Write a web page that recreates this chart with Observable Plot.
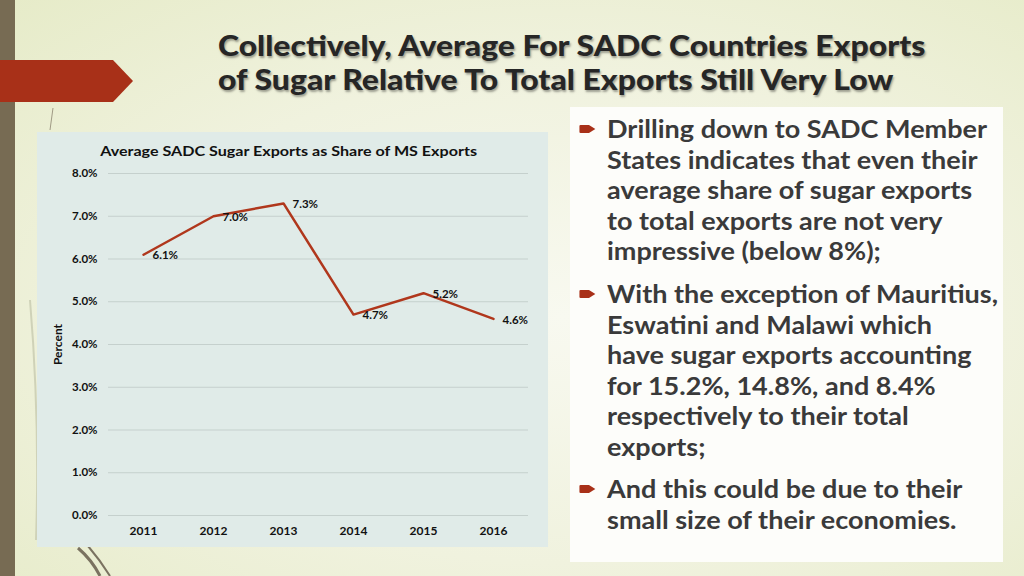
<!DOCTYPE html>
<html>
<head>
<meta charset="utf-8">
<script src="https://cdn.jsdelivr.net/npm/d3@7"></script>
<script src="https://cdn.jsdelivr.net/npm/@observablehq/plot@0.6"></script>
<style>
  html, body { margin:0; padding:0; }
  body { width:1024px; height:576px; overflow:hidden; position:relative;
    background: radial-gradient(ellipse at 55% 55%, #f8f9f0 0%, #f0f2de 55%, #e6ebc8 100%);
    font-family: Lato, "Open Sans", sans-serif; }
  #bar { position:absolute; left:0; top:0; width:15px; height:576px; background:#776b53; }
  #deco { position:absolute; left:0; top:0; }
  #title { position:absolute; left:218px; top:28px; font-weight:900; font-size:28px; line-height:34px;
    color:#262626; text-shadow: 1px 2px 2px rgba(0,0,0,0.35); white-space:nowrap;
    transform: scaleX(1.14); transform-origin: left top; }
  #panel { position:absolute; left:37px; top:132px; width:511px; height:415px; background:#e0ebe8; }
  #ctitle { position:absolute; left:-4px; width:511px; top:10px; text-align:center; font-weight:bold;
    font-size:14px; color:#111; transform: scaleX(1.15); transform-origin: 255px 0; }
  #chart { position:absolute; left:0; top:0; }
  #textbox { position:absolute; left:570px; top:107px; width:433px; height:455px; background:#fdfdfa; }
  .para { position:absolute; left:37px; font-weight:bold; font-size:25.5px; line-height:30.6px;
    color:#3a3a3a; white-space:nowrap; transform: scaleX(1.06); transform-origin: left top; }
  .bullet { position:absolute; left:-27px; top:11px; }
</style>
</head>
<body>
<div id="bar"></div>
<svg id="deco" width="1024" height="576">
  <polygon points="0,60 113,60 133,81 113,102 0,102" fill="#a83018"/>
  <line x1="53" y1="108" x2="50" y2="130" stroke="#8c8470" stroke-width="0.8"/>
  <path d="M78,548 Q92,560 100,576" stroke="#7a7260" stroke-width="3" fill="none"/>
  <path d="M88,546 Q100,560 110,576" stroke="#7a7260" stroke-width="2" fill="none"/>
  <path d="M30,300 Q40,420 36,540" stroke="#cfd2b8" stroke-width="2" fill="none"/>
</svg>
<div id="title">Collectively, Average For SADC Countries Exports<br>of Sugar Relative To Total Exports Still Very Low</div>
<div id="panel">
  <div id="chart"></div>
  <div id="ctitle">Average SADC Sugar Exports as Share of MS Exports</div>
</div>
<div id="textbox">
  <div class="para" style="top:6px"><svg class="bullet" width="17" height="10"><path d="M1,2 Q1,1 2,1 L10,1 L16,5 L10,9 L2,9 Q1,9 1,8 Z" fill="#a83018"/></svg>Drilling down to SADC Member<br>States indicates that even their<br>average share of sugar exports<br>to total exports are not very<br>impressive (below 8%);</div>
  <div class="para" style="top:171px"><svg class="bullet" width="17" height="10"><path d="M1,2 Q1,1 2,1 L10,1 L16,5 L10,9 L2,9 Q1,9 1,8 Z" fill="#a83018"/></svg>With the exception of Mauritius,<br>Eswatini and Malawi which<br>have sugar exports accounting<br>for 15.2%, 14.8%, and 8.4%<br>respectively to their total<br>exports;</div>
  <div class="para" style="top:366px"><svg class="bullet" width="17" height="10"><path d="M1,2 Q1,1 2,1 L10,1 L16,5 L10,9 L2,9 Q1,9 1,8 Z" fill="#a83018"/></svg>And this could be due to their<br>small size of their economies.</div>
</div>
<script>
const years = ["2011", "2012", "2013", "2014", "2015", "2016"];
const shares = [6.1, 7.0, 7.3, 4.7, 5.2, 4.6];
const yTicks = [0, 1, 2, 3, 4, 5, 6, 7, 8];
const yLabel = ["Percent"];

const data = years.map((y, i) => ({year: y, share: shares[i]}));

const chart = Plot.plot({
  width: 511,
  height: 415,
  marginTop: 41,
  marginBottom: 32,
  marginLeft: 71,
  marginRight: 20,
  style: {background: "transparent", fontFamily: "Lato, sans-serif", fontSize: "11.5px", fontWeight: "bold", color: "#111"},
  x: {type: "point", domain: years, padding: 0.5},
  y: {domain: [0, 8]},
  marks: [
    Plot.gridY(yTicks, {stroke: "#c5d0cd", strokeOpacity: 1, strokeWidth: 1}),
    Plot.axisY(yTicks, {tickSize: 0, tickPadding: 11, tickFormat: d => d.toFixed(1) + "%",
      label: null, fontSize: 11.5}),
    Plot.text(yLabel, {frameAnchor: "left", textAnchor: "middle", rotate: -90, dx: -50,
      fontSize: 12, fontWeight: "bold", fill: "#111"}),
    Plot.axisX({tickSize: 0, tickPadding: 11, label: null, fontSize: 12}),
    Plot.line(data, {x: "year", y: "share", stroke: "#b0371c", strokeWidth: 2.5}),
    Plot.text(data, {x: "year", y: "share", text: d => d.share.toFixed(1) + "%",
      textAnchor: "start", dx: 9, dy: 1, fontSize: 11.5, fontWeight: "bold", fill: "#111"})
  ]
});
document.getElementById("chart").appendChild(chart);
</script>
</body>
</html>
